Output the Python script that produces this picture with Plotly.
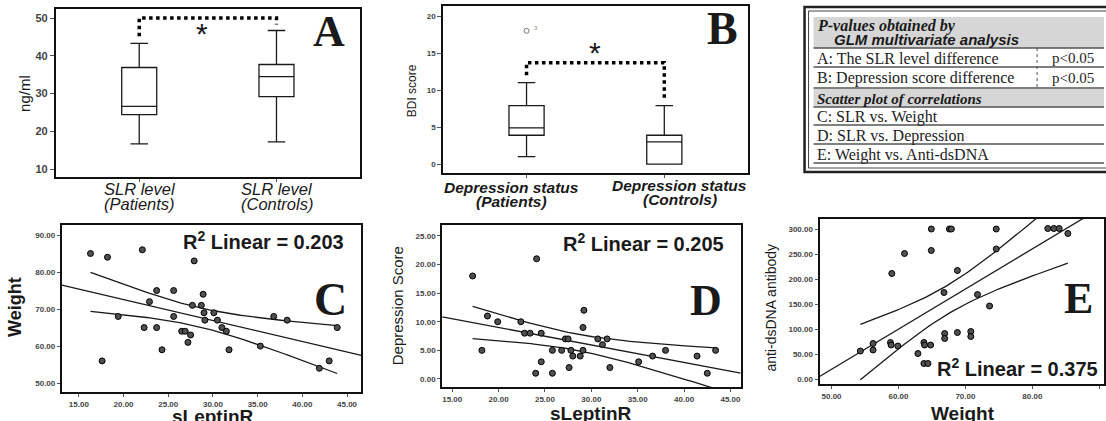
import numpy as np
import plotly.graph_objects as go

W, H = 1106, 421


def fx(p):
    return p / W


def fy(p):
    return 1 - p / H


# ---------------- DATA ----------------
# Panel A: box plot of SLR level (ng/ml)
a_labels = ["SLR level<br>(Patients)", "SLR level<br>(Controls)"]
a_pos = [0, 1]
a_q1 = [24.4, 29.2]
a_med = [26.6, 34.5]
a_q3 = [36.9, 37.7]
a_low = [16.7, 17.2]
a_high = [43.3, 46.7]
a_sig_x = [0, 0, 1, 1]
a_sig_y = [45.2, 50.0, 50.0, 48.3]

# Panel B: box plot of BDI score
b_labels = ["Depression status<br>(Patients)", "Depression status<br>(Controls)"]
b_pos = [0, 1]
b_q1 = [3.9, 0.0]
b_med = [4.9, 3.0]
b_q3 = [7.9, 3.9]
b_low = [1.0, 0.0]
b_high = [11.0, 7.9]
b_out_x = [0]
b_out_y = [18.0]
b_sig_x = [0, 0, 1, 1]
b_sig_y = [12.0, 13.7, 13.7, 8.5]

# Panel C: sLeptinR vs Weight
c_x = [16.3, 18.2, 22.1, 27.9, 17.6, 19.4, 22.3, 22.9, 23.7, 23.7, 24.3, 25.6, 25.6,
       26.5, 26.9, 27.2, 27.5, 27.7, 28.7, 28.9, 29.0, 29.1, 30.1, 30.5, 31.0, 31.5,
       31.8, 35.3, 36.8, 38.3, 41.9, 43.0, 43.9]
c_y = [85, 84, 86, 83, 56, 68, 65, 72, 75, 65, 59, 75, 68,
       64, 64, 61, 63, 71, 71, 74, 69, 67, 69, 67, 65, 64,
       59, 60, 68, 67, 54, 56, 65]

# Panel D: sLeptinR vs Depression Score
d_x = [17.2, 18.2, 18.8, 19.9, 22.4, 22.8, 23.4, 24.0, 24.1, 24.6, 24.6, 25.8, 25.8,
       26.8, 27.2, 27.5, 27.6, 27.8, 28.0, 28.8, 29.1, 29.1, 29.2, 30.7, 31.2, 31.7,
       32.0, 35.1, 36.6, 38.0, 41.4, 42.5, 43.4]
d_y = [18, 5, 11, 10, 10, 8, 8, 1, 21, 8, 3, 5, 1,
       5, 7, 7, 2, 5, 4, 4, 9, 5, 12, 7, 6, 7,
       2, 3, 4, 5, 4, 1, 5]

# Panel E: Weight vs anti-dsDNA antibody
e_x = [54.3, 56.2, 56.2, 58.8, 58.9, 59.9, 59.0, 60.9, 62.9, 63.8, 64.4, 63.8, 63.9,
       64.8, 64.9, 64.9, 66.8, 66.9, 66.9, 67.6, 67.9, 68.8, 68.8, 70.8, 70.8, 71.8,
       73.6, 74.6, 74.6, 82.3, 83.2, 84.0, 85.3]
e_y = [56, 58, 71, 73, 68, 66, 211, 251, 51, 31, 31, 73, 68,
       68, 300, 257, 173, 91, 81, 300, 300, 217, 93, 95, 85, 169,
       146, 300, 260, 301, 301, 301, 291]

r2_text = {"C": "0.203", "D": "0.205", "E": "0.375"}

# table content
tbl_head1 = "P-values obtained by"
tbl_head2 = "GLM multivariate analysis"
tbl_rows_ab = [("A: The SLR level difference", "p<0.05"),
               ("B: Depression score difference", "p<0.05")]
tbl_head3 = "Scatter plot of correlations"
tbl_rows_cde = ["C: SLR vs. Weight", "D: SLR vs. Depression", "E: Weight vs. Anti-dsDNA"]

# ---------------- FIGURE ----------------
SANS = "Liberation Sans, Arial, sans-serif"
SERIF = "Liberation Serif, Times New Roman, serif"
INK = "#1a1a1a"

fig = go.Figure()

box_style = dict(fillcolor="white", line=dict(color=INK, width=1.3), whiskerwidth=0.5,
                 width=0.255, boxpoints=False, showlegend=False, hoverinfo="skip")

fig.add_trace(go.Box(x=a_pos, q1=a_q1, median=a_med, q3=a_q3, lowerfence=a_low,
                     upperfence=a_high, xaxis="x", yaxis="y", **box_style))
fig.add_trace(go.Scatter(x=a_sig_x, y=a_sig_y, mode="lines", xaxis="x", yaxis="y",
                         line=dict(color="black", width=3.5, dash="dot"), showlegend=False))

fig.add_trace(go.Box(x=b_pos, q1=b_q1, median=b_med, q3=b_q3, lowerfence=b_low,
                     upperfence=b_high, xaxis="x2", yaxis="y2", **box_style))
fig.add_trace(go.Scatter(x=b_out_x, y=b_out_y, mode="markers", xaxis="x2", yaxis="y2",
                         marker=dict(symbol="circle-open", size=5, color="#777"),
                         showlegend=False))
fig.add_trace(go.Scatter(x=b_sig_x, y=b_sig_y, mode="lines", xaxis="x2", yaxis="y2",
                         line=dict(color="black", width=3.5, dash="dot"), showlegend=False))


def add_scatter_fit(xs, ys, xa, ya, xrange):
    x = np.asarray(xs, float)
    y = np.asarray(ys, float)
    n = len(x)
    slope, icpt = np.polyfit(x, y, 1)
    resid = y - (icpt + slope * x)
    s = np.sqrt((resid ** 2).sum() / (n - 2))
    xbar = x.mean()
    sxx = ((x - xbar) ** 2).sum()
    t = 2.04
    xl = np.array(xrange)
    fig.add_trace(go.Scatter(x=xl, y=icpt + slope * xl, mode="lines", xaxis=xa, yaxis=ya,
                             line=dict(color=INK, width=1.3), showlegend=False))
    xg = np.linspace(x.min(), x.max(), 80)
    se = s * np.sqrt(1 / n + (xg - xbar) ** 2 / sxx)
    yg = icpt + slope * xg
    for sign in (1, -1):
        fig.add_trace(go.Scatter(x=xg, y=yg + sign * t * se, mode="lines", xaxis=xa, yaxis=ya,
                                 line=dict(color=INK, width=1.3), showlegend=False))
    fig.add_trace(go.Scatter(x=x, y=y, mode="markers", xaxis=xa, yaxis=ya,
                             marker=dict(size=6, color="#505050", line=dict(color="black", width=1)),
                             showlegend=False))


C_XR, C_YR = [13.1, 46.6], [47.6, 92.7]
D_XR, D_YR = [13.92, 46.1], [-1.4, 26.9]
E_XR, E_YR = [48.2, 90.7], [-10, 320]
add_scatter_fit(c_x, c_y, "x3", "y3", C_XR)
add_scatter_fit(d_x, d_y, "x4", "y4", D_XR)
add_scatter_fit(e_x, e_y, "x5", "y5", E_XR)

tickfont = dict(family=SANS, size=11, color="#444", weight="bold")
tickfont_s = dict(family=SANS, size=8, color="#444", weight="bold")


def axis(dom, rng, anchor, **kw):
    d = dict(domain=dom, range=rng, anchor=anchor, showline=True, mirror=True,
             linewidth=2, linecolor="#111", ticks="outside", ticklen=4, tickwidth=1,
             tickcolor="#555", showgrid=False, zeroline=False, fixedrange=True)
    d.update(kw)
    return d


def xdom(l, r):
    return [fx(l), fx(r)]


def ydom(t, b):
    return [fy(b), fy(t)]


layout = dict(
    width=W, height=H, margin=dict(l=0, r=0, t=0, b=0),
    paper_bgcolor="white", plot_bgcolor="white", showlegend=False,
    xaxis=axis(xdom(56, 361), [-0.607, 1.611], "y", tickvals=a_pos,
               showticklabels=False, ticklen=3),
    yaxis=axis(ydom(9, 177), [7.9, 52.4], "x", tickvals=[10, 20, 30, 40, 50],
               tickfont=tickfont),
    xaxis2=axis(xdom(444, 749), [-0.605, 1.605], "y2", tickvals=b_pos,
                showticklabels=False, ticklen=3),
    yaxis2=axis(ydom(6, 173), [-1.2, 21.35], "x2", tickvals=[0, 5, 10, 15, 20],
                tickfont=tickfont_s),
    xaxis3=axis(xdom(62, 362), C_XR, "y3", tickvals=[15, 20, 25, 30, 35, 40, 45],
                tickformat=".2f", tickfont=tickfont_s, ticklen=3),
    yaxis3=axis(ydom(225, 392), C_YR, "x3", tickvals=[50, 60, 70, 80, 90],
                tickformat=".2f", tickfont=tickfont_s, ticklen=3),
    xaxis4=axis(xdom(443, 742), D_XR, "y4", tickvals=[15, 20, 25, 30, 35, 40, 45],
                tickformat=".2f", tickfont=tickfont_s, ticklen=3),
    yaxis4=axis(ydom(225, 387), D_YR, "x4", tickvals=[0, 5, 10, 15, 20, 25],
                tickformat=".2f", tickfont=tickfont_s, ticklen=3),
    xaxis5=axis(xdom(821, 1106), E_XR, "y5", tickvals=[50, 60, 70, 80, 90],
                tickformat=".2f", tickfont=tickfont_s, ticklen=3),
    yaxis5=axis(ydom(219, 384), E_YR, "x5", tickvals=[0, 50, 100, 150, 200, 250, 300],
                tickformat=".2f", tickfont=tickfont_s, ticklen=3),
)
fig.update_layout(**layout)

ann = []


def text(x, y, s, size, family=SANS, weight="normal", style="normal", angle=0,
         xanchor="center", yanchor="middle", color=INK, xref="paper", yref="paper"):
    ann.append(dict(x=fx(x) if xref == "paper" else x, y=fy(y) if yref == "paper" else y,
                    xref=xref, yref=yref, text=s, showarrow=False, textangle=angle,
                    xanchor=xanchor, yanchor=yanchor,
                    font=dict(family=family, size=size, color=color, weight=weight,
                              style=style)))


# axis titles
text(25, 93, "ng/ml", 15, angle=-90)
text(413, 91, "BDI score", 12, angle=-90)
text(15, 307, "Weight", 18, weight="bold", angle=-90)
text(398, 306, "Depression Score", 15, angle=-90)
text(772, 308, "anti-dsDNA antibody", 14, angle=-90)
text(213, 416, "sLeptinR", 19, weight="bold")
text(592, 413, "sLeptinR", 19, weight="bold")
text(965, 413, "Weight", 19, weight="bold")

# category labels
for lab, cx in zip(a_labels, [140, 278]):
    l1, l2 = lab.split("<br>")
    text(cx, 189, l1, 16.5, style="italic")
    text(cx, 204, l2, 16.5, style="italic")
for lab, cx, yy in zip(b_labels, [512, 681], [188, 186]):
    l1, l2 = lab.split("<br>")
    text(cx, yy, l1, 15.5, style="italic", weight="bold")
    text(cx, yy + 13, l2, 15.5, style="italic", weight="bold")

# stars
text(0.455, 46.0, "*", 30, xref="x", yref="y")
text(0.5, 15.1, "*", 30, xref="x2", yref="y2")
text(0.07, 18.4, "3", 6, xref="x2", yref="y2", color="#888")

# big letters
text(330, 31, "A", 44, family=SERIF, weight="bold")
text(724, 28, "B", 46, family=SERIF, weight="bold")
text(331, 299, "C", 46, family=SERIF, weight="bold")
text(707, 300, "D", 44, family=SERIF, weight="bold")
text(1080, 298, "E", 44, family=SERIF, weight="bold")

# R² labels
text(347, 240, "R<sup>2</sup> Linear = " + r2_text["C"], 20, weight="bold", xanchor="right")
text(727, 242, "R<sup>2</sup> Linear = " + r2_text["D"], 20, weight="bold", xanchor="right")
text(1102, 367, "R<sup>2</sup> Linear = " + r2_text["E"], 20, weight="bold", xanchor="right")

# ---- table ----
shapes = []


def rect(x0, y0, x1, y1, **kw):
    shapes.append(dict(type="rect", xref="paper", yref="paper", x0=fx(x0), x1=fx(x1),
                       y0=fy(y1), y1=fy(y0), **kw))


def hline(x0, x1, y, color="#555", width=1.5, dash="solid"):
    shapes.append(dict(type="line", xref="paper", yref="paper", x0=fx(x0), x1=fx(x1),
                       y0=fy(y), y1=fy(y), line=dict(color=color, width=width, dash=dash)))


def vline(x, y0, y1, color="#555", width=1, dash="dot"):
    shapes.append(dict(type="line", xref="paper", yref="paper", x0=fx(x), x1=fx(x),
                       y0=fy(y0), y1=fy(y1), line=dict(color=color, width=width, dash=dash)))


rect(815, 17, 1106, 48, fillcolor="#d6d6d6", line=dict(width=0), layer="below")
rect(815, 89, 1106, 107, fillcolor="#d6d6d6", line=dict(width=0), layer="below")
rect(806, 7, 1112, 172, fillcolor="rgba(0,0,0,0)", line=dict(color="#222", width=2.5))
rect(810, 11, 1112, 168, fillcolor="rgba(0,0,0,0)", line=dict(color="#444", width=1))
for yy in [48, 67, 88, 107, 125, 144, 163]:
    hline(815, 1106, yy)
vline(1039, 48, 88)

text(816, 26, tbl_head1, 16, family=SERIF, weight="bold", style="italic", xanchor="left")
text(834, 40, tbl_head2, 15, weight="bold", style="italic", xanchor="left")
for i, (lab, p) in enumerate(tbl_rows_ab):
    yy = 58 + i * 19.5
    text(816, yy, lab, 16, family=SERIF, xanchor="left", color="#222")
    text(1052, yy, p, 15, family=SERIF, xanchor="left", color="#222")
text(816, 99, tbl_head3, 15, family=SERIF, weight="bold", style="italic", xanchor="left")
for i, lab in enumerate(tbl_rows_cde):
    text(816, 117 + i * 18.8, lab, 16, family=SERIF, xanchor="left", color="#222")

fig.update_layout(annotations=ann, shapes=shapes)

fig.write_html("out.html", config={"displayModeBar": False},
               post_script="document.body.style.margin='0';")
